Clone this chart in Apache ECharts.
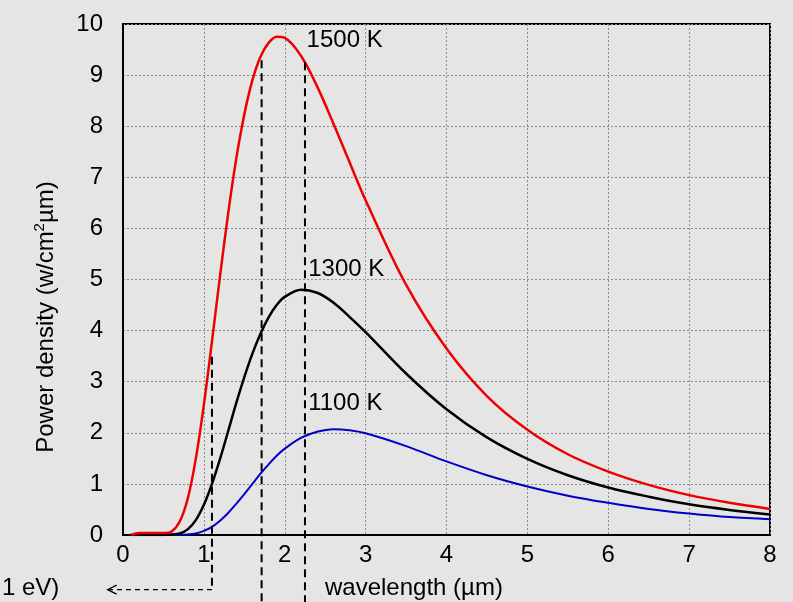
<!DOCTYPE html>
<html>
<head>
<meta charset="utf-8">
<script src="https://cdn.jsdelivr.net/npm/echarts@6/dist/echarts.min.js"></script>
<style>
html,body{margin:0;padding:0;background:#e5e5e5;}
#chart{width:793px;height:602px;}
</style>
</head>
<body>
<div id="chart"></div>
<script>
// ---- data ----
const wavelengths = [0.1,0.2,0.3,0.4,0.5,0.6,0.7,0.8,0.9,1.0,1.1,1.2,1.3,1.4,1.5,1.6,1.7,1.8,1.9,2.0,2.2,2.4,2.6,2.8,3.0,3.5,4.0,4.5,5.0,5.5,6.0,6.5,7.0,7.5,8.0];
const power1500 = [0.0,0.04,0.04,0.04,0.04,0.07,0.26,0.71,1.49,2.55,3.79,5.07,6.29,7.36,8.23,8.90,9.36,9.63,9.75,9.73,9.38,8.78,8.06,7.30,6.55,4.90,3.65,2.72,2.06,1.58,1.24,0.98,0.78,0.63,0.51];
const power1300 = [0.0,0.0,0.0,0.0,0.0,0.01,0.03,0.11,0.29,0.59,1.00,1.49,2.03,2.58,3.09,3.55,3.94,4.26,4.50,4.66,4.80,4.74,4.55,4.27,3.97,3.16,2.46,1.91,1.49,1.17,0.93,0.75,0.60,0.49,0.40];
const power1100 = [0.0,0.0,0.0,0.0,0.0,0.0,0.0,0.01,0.03,0.08,0.16,0.28,0.43,0.61,0.80,1.00,1.20,1.38,1.55,1.69,1.90,2.02,2.07,2.05,1.99,1.74,1.44,1.17,0.95,0.77,0.63,0.51,0.42,0.35,0.31];
const seriesNames = ['1500 K','1300 K','1100 K'];
const xTickLabels = ['0','1','2','3','4','5','6','7','8'];
const yTickLabels = ['0','1','2','3','4','5','6','7','8','9','10'];
// dashed guide lines: wavelength and the value where each starts
const guideX = [1.1, 1.714, 2.25];
const guideTop = [3.49, 9.29, 9.25];

// ---- layout / style (kept apart from the data) ----
const FONT = "'Liberation Sans', Arial, sans-serif";
const colors = ['#ee0000', '#000000', '#0000c8'];
const labelPos = [[2.27, 9.68], [2.29, 5.2], [2.29, 2.57]];
const arrowLevel = -1.07;   // value units, below the axis
const arrowTipX = -0.19;

function pairs(ys) { return wavelengths.map((x, i) => [x, ys[i]]); }

const chart = echarts.init(document.getElementById('chart'), null, {renderer: 'canvas'});

const lineSeries = [power1500, power1300, power1100].map((ys, i) => ({
  name: seriesNames[i],
  type: 'line',
  data: pairs(ys),
  smooth: 0.35,
  showSymbol: false,
  lineStyle: {color: colors[i], width: i === 2 ? 2 : 2.5},
  itemStyle: {color: colors[i]},
  z: 5 - i,
  silent: true
}));

const guideSeries = {
  type: 'custom',
  coordinateSystem: 'cartesian2d',
  clip: false,
  silent: true,
  z: 6,
  data: guideX.map((x, i) => [x, guideTop[i]]),
  renderItem: function (params, api) {
    const i = params.dataIndex;
    const top = api.coord([api.value(0), api.value(1)]);
    const children = [];
    let bottomY = api.getHeight();
    if (i === 0) bottomY = api.coord([api.value(0), arrowLevel])[1];
    children.push({
      type: 'line',
      shape: {x1: top[0], y1: top[1], x2: top[0], y2: bottomY},
      style: {stroke: '#000', lineWidth: 2, lineDash: [8, 5]}
    });
    if (i === 0) {
      const tip = api.coord([arrowTipX, arrowLevel]);
      children.push({
        type: 'line',
        shape: {x1: top[0], y1: bottomY, x2: tip[0] + 2, y2: bottomY},
        style: {stroke: '#000', lineWidth: 1.3, lineDash: [5, 4]}
      });
      children.push({
        type: 'polyline',
        shape: {points: [[tip[0] + 9, bottomY - 4.5], [tip[0], bottomY], [tip[0] + 9, bottomY + 4.5]]},
        style: {stroke: '#000', lineWidth: 1.3, fill: null}
      });
    }
    return {type: 'group', children: children};
  }
};

const labelSeries = {
  type: 'custom',
  coordinateSystem: 'cartesian2d',
  clip: false,
  silent: true,
  z: 7,
  data: labelPos.map(p => [p[0], p[1]]),
  renderItem: function (params, api) {
    const p = api.coord([api.value(0), api.value(1)]);
    return {
      type: 'text',
      x: p[0], y: p[1],
      style: {text: seriesNames[params.dataIndex], fill: '#000', fontSize: 24, fontFamily: FONT, align: 'left', verticalAlign: 'middle'}
    };
  }
};

chart.setOption({
  backgroundColor: '#e5e5e5',
  animation: false,
  grid: {left: 123, right: 23, top: 24, bottom: 67, show: true, borderColor: '#000', borderWidth: 2, backgroundColor: 'transparent'},
  xAxis: {
    type: 'value', min: 0, max: 8, interval: 1,
    axisLine: {show: true, lineStyle: {color: '#000', width: 2}},
    axisTick: {show: false},
    axisLabel: {color: '#000', fontSize: 24, fontFamily: FONT, margin: 8, formatter: v => xTickLabels[Math.round(v)]},
    splitLine: {show: true, lineStyle: {color: '#8c8c8c', width: 1, type: [2, 2]}}
  },
  yAxis: {
    type: 'value', min: 0, max: 10, interval: 1,
    axisLine: {show: true, lineStyle: {color: '#000', width: 2}},
    axisTick: {show: false},
    axisLabel: {color: '#000', fontSize: 24, fontFamily: FONT, margin: 20, formatter: v => yTickLabels[Math.round(v)]},
    splitLine: {show: true, lineStyle: {color: '#8c8c8c', width: 1, type: [2, 2]}}
  },
  graphic: [
    {
      type: 'text', x: 46, y: 317, rotation: Math.PI / 2, silent: true,
      style: {
        text: 'Power density (w/cm{sup|2}µm)',
        fill: '#000', fontSize: 24, fontFamily: FONT, align: 'center', verticalAlign: 'middle',
        rich: {sup: {fontSize: 15, fontFamily: FONT, fill: '#000', verticalAlign: 'top', lineHeight: 28}}
      }
    },
    {
      type: 'text', x: 325, y: 588, silent: true,
      style: {text: 'wavelength (µm)', fill: '#000', fontSize: 24, fontFamily: FONT, align: 'left', verticalAlign: 'middle'}
    },
    {
      type: 'text', x: 2, y: 588, silent: true,
      style: {text: '1 eV)', fill: '#000', fontSize: 24, fontFamily: FONT, align: 'left', verticalAlign: 'middle'}
    }
  ],
  series: lineSeries.concat([guideSeries, labelSeries])
});
</script>
</body>
</html>
